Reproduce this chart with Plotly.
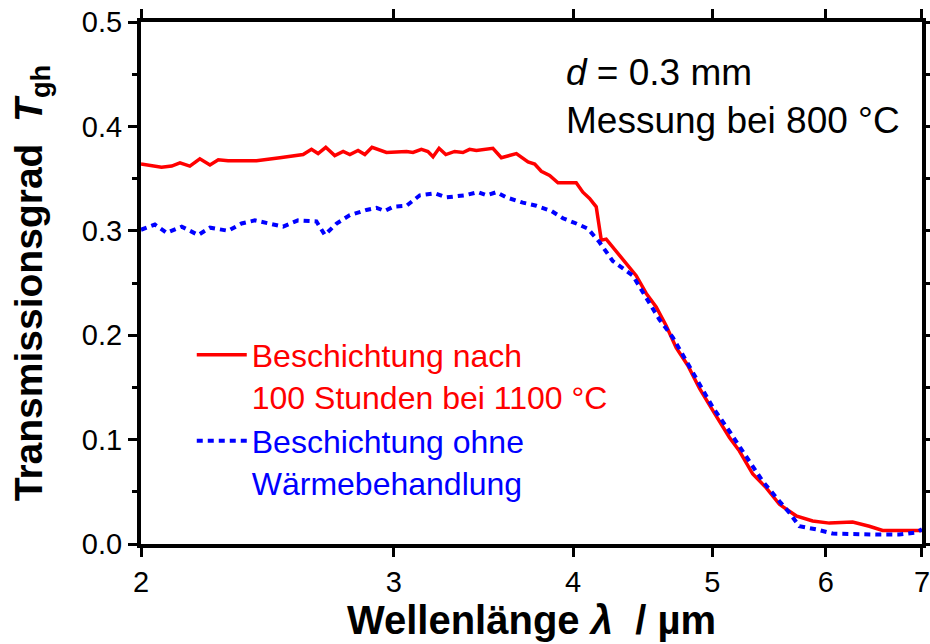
import plotly.graph_objects as go

# Red: coating after 100 h at 1100 °C
lam_red = [2.00, 2.067, 2.101, 2.129, 2.163, 2.198, 2.234, 2.264, 2.300, 2.407, 2.499, 2.594,
           2.629, 2.657, 2.690, 2.729, 2.766, 2.796, 2.833, 2.864, 2.897, 2.965, 3.062, 3.094,
           3.136, 3.169, 3.195, 3.226, 3.261, 3.308, 3.352, 3.388, 3.425, 3.517, 3.565, 3.652,
           3.721, 3.761, 3.801, 3.852, 3.904, 4.020, 4.063, 4.107, 4.151, 4.185, 4.218, 4.263,
           4.332, 4.426, 4.498, 4.570, 4.644, 4.719, 4.808, 4.899, 5.004, 5.140, 5.223, 5.336,
           5.451, 5.569, 5.720, 5.874, 6.034, 6.263, 6.433, 6.572, 6.749, 7.00]
t_red = [0.364, 0.361, 0.362, 0.365, 0.362, 0.369, 0.363, 0.368, 0.367, 0.367, 0.370, 0.373,
         0.378, 0.374, 0.380, 0.372, 0.376, 0.373, 0.377, 0.373, 0.380, 0.375, 0.376, 0.375,
         0.378, 0.376, 0.371, 0.379, 0.373, 0.376, 0.375, 0.378, 0.377, 0.379, 0.370, 0.374,
         0.366, 0.364, 0.357, 0.353, 0.346, 0.346, 0.337, 0.331, 0.323, 0.291, 0.292, 0.284,
         0.273, 0.257, 0.240, 0.227, 0.209, 0.188, 0.171, 0.149, 0.128, 0.102, 0.089, 0.067,
         0.054, 0.038, 0.027, 0.022, 0.020, 0.021, 0.017, 0.013, 0.013, 0.013]

# Blue: coating without heat treatment
lam_blue = [2.00, 2.045, 2.084, 2.135, 2.192, 2.234, 2.300, 2.350, 2.401, 2.459, 2.512, 2.573,
            2.650, 2.686, 2.737, 2.796, 2.871, 2.918, 2.957, 2.997, 3.062, 3.128, 3.204, 3.264,
            3.362, 3.434, 3.481, 3.537, 3.594, 3.690, 3.771, 3.863, 3.935, 4.020, 4.096, 4.173,
            4.263, 4.402, 4.498, 4.594, 4.693, 4.795, 4.899, 5.004, 5.140, 5.280, 5.422, 5.569,
            5.658, 5.750, 5.907, 6.066, 6.330, 6.537, 6.749, 6.933, 7.00]
t_blue = [0.301, 0.306, 0.298, 0.304, 0.296, 0.303, 0.300, 0.307, 0.310, 0.307, 0.304, 0.310,
          0.309, 0.296, 0.307, 0.315, 0.320, 0.322, 0.319, 0.323, 0.324, 0.334, 0.336, 0.332,
          0.334, 0.337, 0.334, 0.337, 0.332, 0.327, 0.324, 0.319, 0.312, 0.307, 0.302, 0.289,
          0.271, 0.257, 0.236, 0.215, 0.198, 0.175, 0.153, 0.131, 0.108, 0.083, 0.060, 0.041,
          0.030, 0.017, 0.014, 0.010, 0.009, 0.009, 0.009, 0.011, 0.014]

x_ticks = [2, 3, 4, 5, 6, 7]
y_ticks = [0.0, 0.1, 0.2, 0.3, 0.4, 0.5]

FONT = "Liberation Sans, Arial, sans-serif"

fig = go.Figure()
fig.add_trace(go.Scatter(
    x=lam_red, y=t_red, mode="lines",
    line=dict(color="#FF0000", width=3.5),
    name='<span style="color:#FF0000">Beschichtung nach<br>100 Stunden bei 1100 °C</span>'))
fig.add_trace(go.Scatter(
    x=lam_blue, y=t_blue, mode="lines",
    line=dict(color="#0000FF", width=4, dash="6px,5px"),
    name='<span style="color:#0000FF">Beschichtung ohne<br>Wärmebehandlung</span>'))

fig.add_annotation(
    x=0.541, y=0.947, xref="paper", yref="paper", xanchor="left", yanchor="top",
    align="left", showarrow=False,
    text="<i>d</i> = 0.3 mm<br>Messung bei 800 °C",
    font=dict(family=FONT, size=37, color="black"))

axis_common = dict(
    showline=True, linewidth=4, linecolor="black", mirror="allticks",
    ticks="outside", ticklen=9, tickwidth=3, tickcolor="black",
    showgrid=False, zeroline=False, automargin=False,
    ticklabeloverflow="allow",
    tickfont=dict(family=FONT, size=29, color="black"),
)

fig.update_xaxes(
    type="log", range=[0.30103, 0.845110], tickvals=x_ticks,
    ticktext=[str(v) for v in x_ticks],
    title=dict(text="<b>Wellenlänge <i>λ</i>  / µm</b>", standoff=6,
               font=dict(family=FONT, size=40, color="black")),
    **axis_common)
fig.update_yaxes(
    range=[0, 0.5], tickvals=y_ticks, tickformat=".1f",
    minor=dict(dtick=0.05, ticks="outside", ticklen=5, tickwidth=3, tickcolor="black"),
    title=dict(text="<b>Transmissionsgrad  <i>T</i><sub>gh</sub></b>", standoff=28,
               font=dict(family=FONT, size=39, color="black")),
    **axis_common)

fig.update_layout(
    width=930, height=644,
    margin=dict(l=141, r=8, t=22, b=100),
    paper_bgcolor="white", plot_bgcolor="white",
    showlegend=True,
    legend=dict(x=0.065, y=0.415, xanchor="left", yanchor="top",
                bgcolor="rgba(0,0,0,0)", valign="top",
                font=dict(family=FONT, size=32),
                tracegroupgap=6, itemwidth=50),
)

fig.write_html("out.html")
